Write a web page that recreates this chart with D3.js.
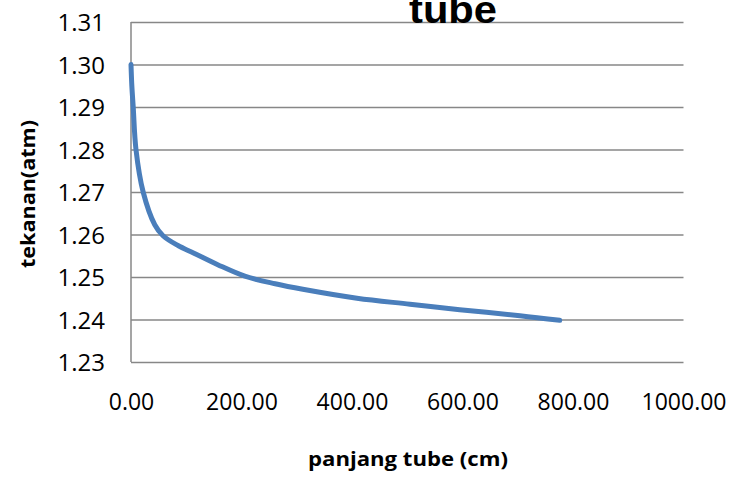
<!DOCTYPE html>
<html>
<head>
<meta charset="utf-8">
<script src="https://cdn.jsdelivr.net/npm/d3@7"></script>
<style>
  body { margin: 0; background: #fff; }
  svg { display: block; }
</style>
</head>
<body>
<svg id="chart" width="732" height="477"></svg>
<script>
// panjang tube (cm) vs tekanan (atm)
var panjang = [0, 1.5, 4, 9, 22, 43, 58, 85, 114, 157, 206, 261, 311, 409, 505, 595, 704, 776];
var tekanan = [1.300, 1.295, 1.290, 1.280, 1.270, 1.2623, 1.2597, 1.2574, 1.2556, 1.2529, 1.2502, 1.2484, 1.2471, 1.2450, 1.2436, 1.2423, 1.2409, 1.2398];

var xTicks = [0, 200, 400, 600, 800, 1000];
var yTicks = [1.23, 1.24, 1.25, 1.26, 1.27, 1.28, 1.29, 1.30, 1.31];

var chartTitle = "tube";
var xTitle = "panjang tube (cm)";
var yTitle = "tekanan(atm)";

var svg = d3.select("#chart"),
    plotLeft = 131, plotRight = 683.5, plotTop = 22, plotBottom = 362;

var x = d3.scaleLinear().domain([0, 1000]).range([plotLeft, plotRight]),
    y = d3.scaleLinear().domain([1.23, 1.31]).range([plotBottom, plotTop]);

var data = panjang.map(function(d, i) { return {x: d, y: tekanan[i]}; });

// gridlines + y labels
svg.append("g")
    .attr("transform", "translate(" + plotLeft + ",0)")
    .call(d3.axisLeft(y).tickValues(yTicks).tickSize(-(plotRight - plotLeft)).tickFormat(d3.format(".2f")).tickPadding(26))
    .call(function(g) {
      g.select(".domain").remove();
      g.selectAll(".tick line").attr("stroke", "#878787").attr("stroke-width", 1.5);
      g.selectAll(".tick text")
          .attr("fill", "#000")
          .attr("font-family", "'Open Sans', sans-serif")
          .attr("font-size", 24)
          .attr("dy", "0.36em");
    });

// x axis labels
svg.append("g")
    .attr("transform", "translate(0," + plotBottom + ")")
    .call(d3.axisBottom(x).tickValues(xTicks).tickSize(0).tickFormat(d3.format(".2f")).tickPadding(32))
    .call(function(g) {
      g.select(".domain").remove();
      g.selectAll(".tick text")
          .attr("fill", "#000")
          .attr("font-family", "'Open Sans', sans-serif")
          .attr("font-size", 23);
    });

// left axis line
svg.append("line")
    .attr("x1", plotLeft).attr("x2", plotLeft)
    .attr("y1", plotTop).attr("y2", plotBottom)
    .attr("stroke", "#878787")
    .attr("stroke-width", 1.5);

var line = d3.line()
    .curve(d3.curveCatmullRom.alpha(0.5))
    .x(function(d) { return x(d.x); })
    .y(function(d) { return y(d.y); });

svg.append("path")
    .datum(data)
    .attr("d", line)
    .attr("fill", "none")
    .attr("stroke", "#4a7ebb")
    .attr("stroke-width", 5)
    .attr("stroke-linecap", "round")
    .attr("stroke-linejoin", "round");

// title (first line falls outside the picture)
svg.append("text")
    .attr("x", 453)
    .attr("y", 23)
    .attr("text-anchor", "middle")
    .attr("font-family", "'Liberation Sans', Arial, sans-serif")
    .attr("font-weight", "bold")
    .attr("font-size", 38)
    .attr("textLength", 88)
    .attr("lengthAdjust", "spacingAndGlyphs")
    .text(chartTitle);

svg.append("text")
    .attr("x", 408)
    .attr("y", 466)
    .attr("text-anchor", "middle")
    .attr("font-family", "'Open Sans', sans-serif")
    .attr("font-weight", "bold")
    .attr("font-size", 20)
    .attr("textLength", 200)
    .attr("lengthAdjust", "spacingAndGlyphs")
    .text(xTitle);

svg.append("text")
    .attr("transform", "translate(35,194) rotate(-90)")
    .attr("text-anchor", "middle")
    .attr("font-family", "'Open Sans', sans-serif")
    .attr("font-weight", "bold")
    .attr("font-size", 20)
    .attr("textLength", 148)
    .attr("lengthAdjust", "spacingAndGlyphs")
    .text(yTitle);
</script>
</body>
</html>
